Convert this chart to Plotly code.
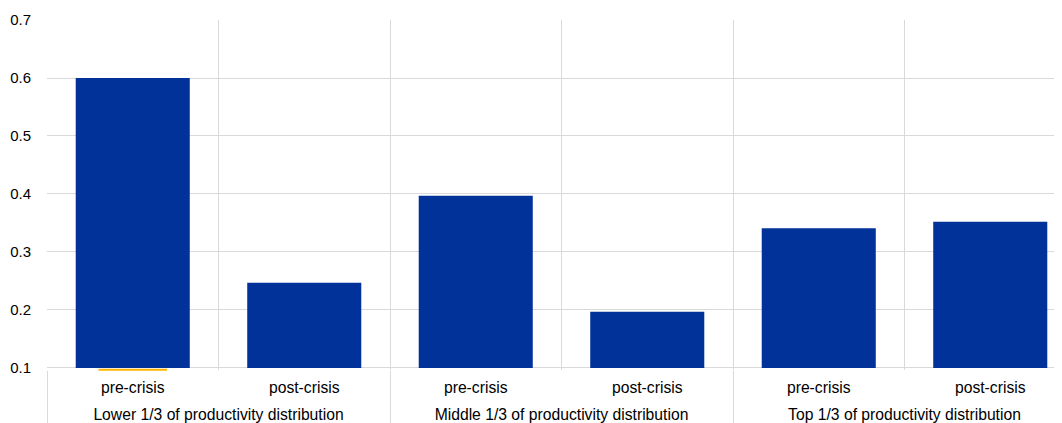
import plotly.graph_objects as go

groups = [
    "Lower 1/3 of productivity distribution",
    "Middle 1/3 of productivity distribution",
    "Top 1/3 of productivity distribution",
]
periods = ["pre-crisis", "post-crisis"]
values = [0.600, 0.247, 0.397, 0.197, 0.341, 0.352]
baseline = 0.1

# small second series that sits just under the axis floor
marker_value = [0.097]

# tall blanks either side of each period label make its box taller
# (pushing the group row down) while keeping the label centred
pad = "<span style='font-size:28px'>&nbsp;</span>"
x_groups = [g for g in groups for _ in periods]
x_periods = [pad + p + pad for _ in groups for p in periods]

fig = go.Figure()
fig.add_trace(go.Bar(
    x=[x_groups, x_periods],
    y=[v - baseline for v in values],
    base=baseline,
    customdata=values,
    hovertemplate="%{customdata:.3f}<extra></extra>",
    marker=dict(color="#003299", line=dict(width=0)),
    showlegend=False,
))
fig.add_trace(go.Scatter(
    x=[[x_groups[0]], [x_periods[0]]],
    y=marker_value,
    mode="markers",
    marker=dict(symbol="line-ew", size=49, line=dict(width=2, color="#ffb400")),
    cliponaxis=False,
    showlegend=False,
))

# page is offset by the browser's default 8px body margin
fig.update_layout(
    width=1062,
    height=423,
    margin=dict(l=39, r=0, t=12, b=61),
    plot_bgcolor="white",
    paper_bgcolor="white",
    bargap=0.335,
    font=dict(family="Liberation Sans, Arial, sans-serif", size=15, color="#000000"),
)
fig.update_xaxes(
    type="multicategory",
    tickson="boundaries",
    showgrid=True,
    gridcolor="#d9d9d9",
    gridwidth=1,
    ticks="",
    ticklabelstandoff=6,
    showdividers=True,
    dividercolor="#d9d9d9",
    dividerwidth=1,
    range=[-0.5, 5.465],
    tickfont=dict(size=15.7),
)
fig.update_yaxes(
    range=[0.0965, 0.7],
    tickvals=[0.1, 0.2, 0.3, 0.4, 0.5, 0.6, 0.7],
    tickformat=".1f",
    showgrid=True,
    gridcolor="#d9d9d9",
    gridwidth=1,
    zeroline=False,
    ticks="outside",
    ticklen=12,
    tickcolor="rgba(0,0,0,0)",
    tickfont=dict(size=15),
)

fig.write_html("out.html")
